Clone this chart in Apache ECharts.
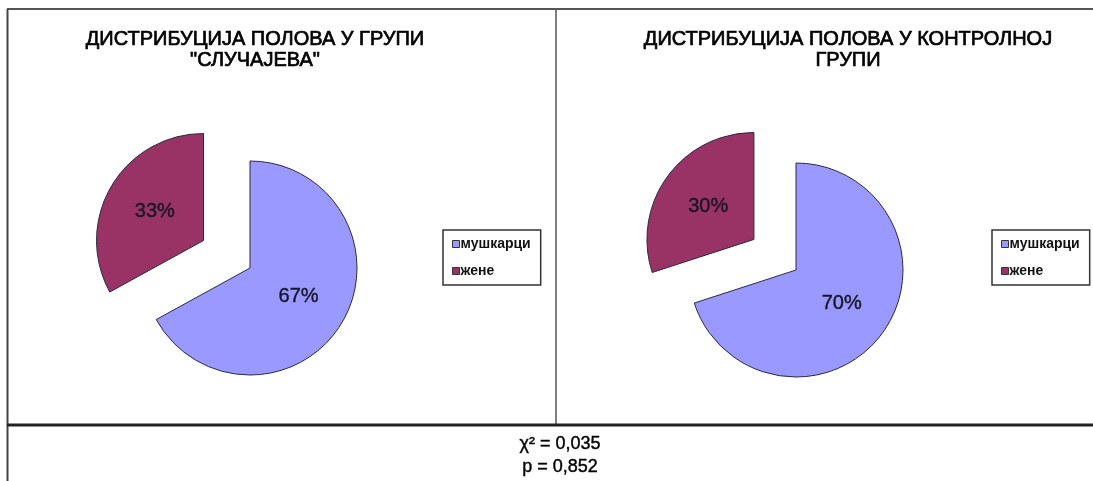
<!DOCTYPE html>
<html>
<head>
<meta charset="utf-8">
<script src="https://cdn.jsdelivr.net/npm/echarts@6/dist/echarts.min.js"></script>
<style>
html,body{margin:0;padding:0;background:#fff;}
#c{width:1093px;height:481px;}
</style>
</head>
<body>
<div id="c"></div>
<script>
var categories = ['мушкарци', 'жене'];
var casesValues = [67, 33];
var controlValues = [70, 30];
var titleCases = 'ДИСТРИБУЦИЈА ПОЛОВА У ГРУПИ\n"СЛУЧАЈЕВА"';
var titleControl = 'ДИСТРИБУЦИЈА ПОЛОВА У КОНТРОЛНОЈ\nГРУПИ';
var statLines = ['χ² = 0,035', 'p = 0,852'];

var colors = ['#9999FF', '#993366'];
var font = 'Liberation Sans, Arial, sans-serif';

function mk(values) {
  return values.map(function (v, i) {
    return { name: categories[i], value: v, selected: i === 1, itemStyle: { color: colors[i] } };
  });
}

function pie(values, center, offset) {
  return {
    type: 'pie',
    center: center,
    radius: 107,
    startAngle: 90,
    clockwise: true,
    selectedMode: 'multiple',
    selectedOffset: offset,
    silent: true,
    emphasis: { disabled: true, scale: false },
    itemStyle: { borderColor: '#2a2a44', borderWidth: 1 },
    label: {
      show: true, position: 'inside', formatter: '{d}%',
      color: '#161626', fontSize: 20, fontFamily: font,
      textBorderColor: '#161626', textBorderWidth: 0.4
    },
    labelLine: { show: false },
    data: mk(values)
  };
}

var legendCommon = {
  orient: 'vertical',
  data: categories,
  icon: 'rect',
  itemWidth: 7, itemHeight: 7,
  itemGap: 13,
  padding: [7, 10, 7, 9],
  borderColor: '#333', borderWidth: 1.5,
  selectedMode: false,
  itemStyle: { borderColor: '#333', borderWidth: 1 },
  textStyle: { fontFamily: font, fontWeight: 'bold', fontSize: 14, color: '#111', padding: [0, 0, 0, -4] }
};

var titleStyle = { fontFamily: font, fontSize: 20, fontWeight: 'normal', color: '#000', lineHeight: 21, textBorderColor: '#000', textBorderWidth: 0.7 };

var chart = echarts.init(document.getElementById('c'), null, { renderer: 'canvas' });
chart.setOption({
  animation: false,
  backgroundColor: '#fff',
  title: [
    { text: titleCases, left: 250, top: 24, textAlign: 'center', textStyle: titleStyle },
    { text: titleControl, left: 843, top: 24, textAlign: 'center', textStyle: titleStyle },
    { text: statLines.join('\n'), left: 555, top: 428, textAlign: 'center',
      textStyle: { fontFamily: font, fontSize: 18, fontWeight: 'normal', color: '#000', lineHeight: 23, textBorderColor: '#000', textBorderWidth: 0.4 } }
  ],
  legend: [
    Object.assign({ left: 443, top: 230 }, legendCommon),
    Object.assign({ left: 992, top: 230 }, legendCommon)
  ],
  graphic: [
    { type: 'line', shape: { x1: 7, y1: 9, x2: 1093, y2: 9 }, style: { stroke: '#555', lineWidth: 2 } },
    { type: 'line', shape: { x1: 7.5, y1: 9, x2: 7.5, y2: 481 }, style: { stroke: '#444', lineWidth: 2 } },
    { type: 'line', shape: { x1: 556, y1: 9, x2: 556, y2: 425 }, style: { stroke: '#555', lineWidth: 1.5 } },
    { type: 'line', shape: { x1: 7, y1: 425, x2: 1093, y2: 425 }, style: { stroke: '#222', lineWidth: 3 } }
  ],
  series: [
    pie(casesValues, [250, 268], 54),
    pie(controlValues, [796, 270], 52)
  ]
});
</script>
</body>
</html>
